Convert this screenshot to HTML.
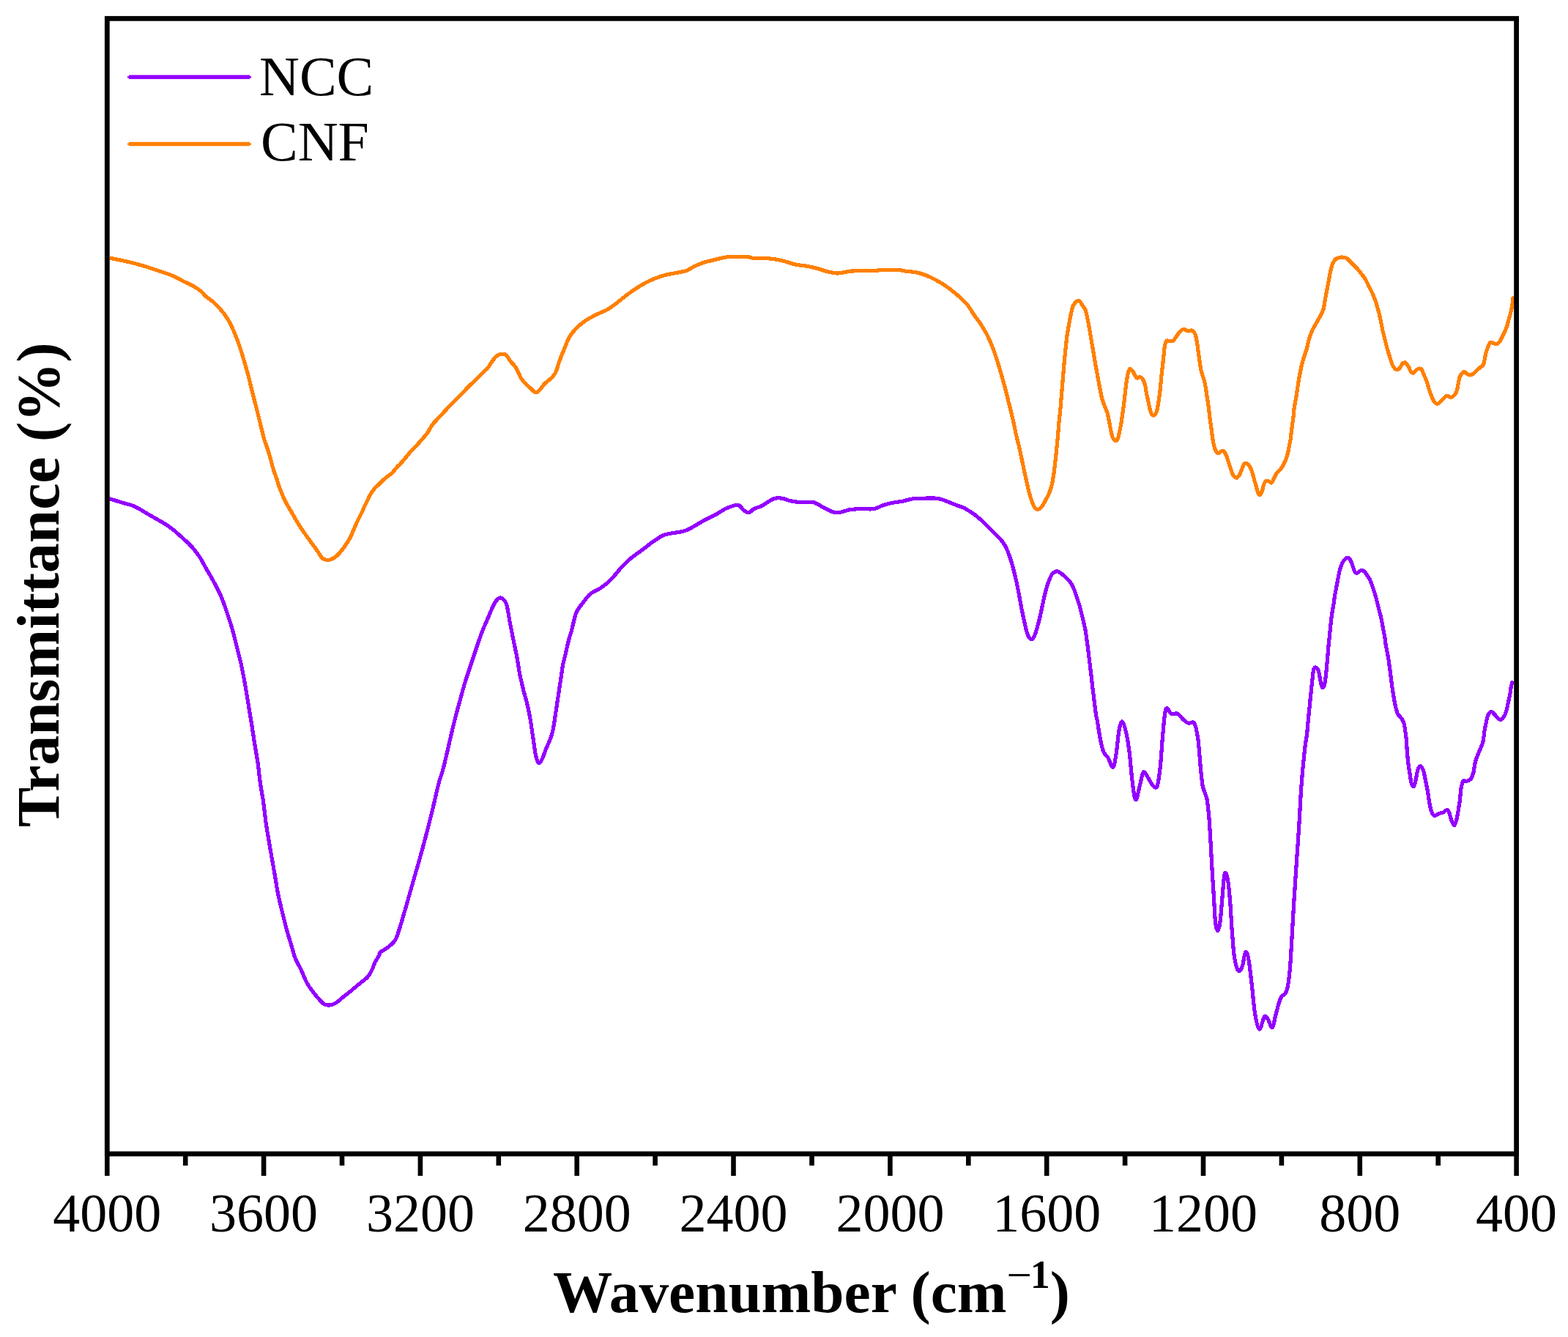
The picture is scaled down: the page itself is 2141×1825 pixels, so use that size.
<!DOCTYPE html>
<html><head><meta charset="utf-8"><style>
html,body{margin:0;padding:0;background:#fff;}
body{width:2141px;height:1825px;overflow:hidden;}
svg{display:block;}
</style></head><body>
<svg width="2141" height="1825" viewBox="0 0 2141 1825">
<rect x="0" y="0" width="2141" height="1825" fill="#fff"/>
<path d="M149.9,352.1C153.5,352.9 164.2,355.0 171.2,356.6C178.3,358.2 185.1,359.8 192.1,361.8C199.0,363.8 206.0,366.2 212.9,368.5C219.9,370.8 227.7,373.1 233.8,375.6C239.8,378.0 244.2,380.8 249.4,383.4C254.6,386.0 260.7,388.7 265.0,391.2C269.3,393.7 272.9,396.2 275.4,398.2C277.9,400.3 278.0,401.8 280.0,403.6C282.0,405.4 285.1,407.4 287.2,409.1C289.4,410.7 290.9,411.9 292.7,413.6C294.5,415.3 296.3,417.1 298.1,419.0C299.9,421.0 301.7,423.1 303.6,425.4C305.4,427.6 307.2,429.9 309.0,432.6C310.8,435.3 312.8,438.5 314.4,441.7C316.1,444.8 317.4,448.2 319.0,451.6C320.5,455.1 322.0,458.6 323.5,462.5C325.0,466.4 326.7,471.1 328.0,475.2C329.4,479.3 330.4,482.9 331.6,487.0C332.9,491.1 334.1,495.4 335.3,499.7C336.5,503.9 337.7,507.8 338.9,512.3C340.1,516.9 341.3,522.0 342.5,526.8C343.7,531.7 344.9,536.5 346.1,541.3C347.3,546.2 348.6,551.0 349.8,555.8C351.0,560.7 352.2,565.5 353.4,570.3C354.6,575.2 355.8,580.0 357.0,584.8C358.2,589.7 359.2,594.5 360.6,599.3C362.1,604.1 364.1,608.9 365.6,613.6C367.1,618.2 368.3,622.7 369.6,627.2C370.9,631.7 371.9,636.2 373.3,640.8C374.7,645.3 376.8,650.6 378.1,654.4C379.3,658.1 379.7,660.4 380.8,663.4C381.8,666.5 383.2,669.5 384.4,672.5C385.6,675.5 386.8,678.5 388.2,681.6C389.6,684.6 391.3,687.6 393.0,690.6C394.7,693.6 396.7,696.7 398.4,699.7C400.2,702.7 401.8,705.7 403.6,708.7C405.4,711.8 407.1,714.8 409.0,717.8C411.0,720.8 413.1,723.8 415.2,726.9C417.3,729.9 419.4,732.9 421.6,735.9C423.7,738.9 426.2,742.0 428.3,745.0C430.5,748.0 432.7,751.2 434.7,754.0C436.7,756.9 438.1,760.3 440.2,762.0C442.4,763.8 445.3,764.5 447.8,764.5C450.3,764.5 453.0,763.3 455.3,762.0C457.6,760.8 459.5,759.1 461.6,757.0C463.7,754.9 465.7,752.2 467.8,749.5C469.9,746.8 472.2,743.6 474.1,740.7C476.0,737.8 477.7,734.8 479.1,731.9C480.6,729.0 481.6,726.1 482.9,723.1C484.2,720.2 485.4,717.1 486.7,714.3C487.9,711.6 489.2,709.3 490.4,706.8C491.7,704.3 492.9,702.0 494.2,699.3C495.4,696.6 496.7,693.2 498.0,690.5C499.2,687.8 500.5,685.5 501.7,683.0C503.0,680.5 504.0,678.0 505.5,675.4C506.9,672.9 508.6,670.2 510.5,667.9C512.4,665.6 514.7,663.7 516.8,661.6C518.9,659.5 521.0,657.2 523.1,655.4C525.1,653.5 527.2,652.0 529.3,650.3C531.4,648.7 533.5,647.4 535.6,645.3C537.7,643.2 539.8,640.1 541.9,637.8C544.0,635.5 546.1,633.8 548.1,631.5C550.2,629.2 552.3,626.5 554.4,624.0C556.5,621.5 558.4,619.0 560.7,616.5C563.0,614.0 565.7,611.7 568.2,608.9C570.7,606.2 573.2,603.1 575.8,600.2C578.3,597.2 580.9,594.7 583.3,591.4C585.7,588.0 587.8,583.4 590.2,580.0C592.6,576.7 595.3,574.2 597.8,571.4C600.4,568.6 602.9,565.9 605.5,563.2C608.0,560.5 610.6,557.7 613.1,555.0C615.7,552.4 618.2,549.9 620.8,547.4C623.3,544.9 625.9,542.4 628.4,539.8C631.0,537.1 633.5,534.2 636.1,531.6C638.6,529.0 641.2,526.4 643.7,524.0C646.3,521.5 648.8,519.3 651.4,516.8C653.9,514.4 656.5,511.7 659.0,509.2C661.5,506.6 664.3,504.5 666.6,501.5C669.0,498.6 671.0,494.2 673.2,491.5C675.4,488.7 677.6,486.3 679.7,484.9C681.9,483.6 684.3,483.1 686.2,483.1C688.2,483.1 689.7,483.3 691.5,484.9C693.2,486.6 694.5,489.9 696.7,492.8C698.8,495.6 701.9,497.8 704.5,501.9C707.1,506.0 709.3,513.1 712.3,517.5C715.3,521.9 719.5,525.4 722.7,528.4C726.0,531.5 729.2,535.4 731.8,535.7C734.4,536.1 736.4,532.5 738.3,530.5C740.3,528.6 740.9,526.6 743.5,524.0C746.1,521.4 751.4,517.7 754.0,514.9C756.6,512.1 757.4,511.0 759.2,507.1C760.9,503.2 762.6,496.2 764.4,491.5C766.1,486.7 767.4,483.6 769.6,478.4C771.8,473.2 774.4,465.4 777.4,460.2C780.4,455.0 783.9,451.1 787.8,447.2C791.7,443.3 796.1,439.9 800.8,436.8C805.6,433.6 811.7,430.8 816.5,428.4C821.2,426.1 825.1,425.0 829.5,422.4C833.8,419.9 838.2,416.6 842.5,413.3C846.8,410.1 851.2,406.2 855.5,402.9C859.9,399.7 864.2,396.6 868.5,393.8C872.9,391.0 877.2,388.3 881.6,386.0C885.9,383.7 890.2,381.7 894.6,380.0C898.9,378.3 903.3,376.7 907.6,375.6C911.9,374.4 916.8,373.7 920.6,373.0C924.4,372.2 927.5,371.8 930.4,371.1C933.4,370.5 935.2,370.4 938.2,369.1C941.3,367.8 944.7,365.2 948.6,363.3C952.6,361.5 957.8,359.4 961.7,358.1C965.6,356.8 968.6,356.4 972.1,355.5C975.6,354.7 979.0,353.7 982.5,352.9C986.0,352.1 988.6,351.3 992.9,350.8C997.3,350.4 1003.8,350.3 1008.5,350.3C1013.3,350.3 1018.1,350.5 1021.6,350.8C1025.0,351.2 1024.6,352.0 1029.4,352.4C1034.1,352.7 1044.6,352.5 1050.2,352.9C1055.9,353.3 1058.9,353.9 1063.2,354.7C1067.6,355.6 1072.3,357.0 1076.2,358.1C1080.2,359.2 1082.3,360.4 1086.7,361.2C1091.0,362.1 1097.1,362.4 1102.3,363.3C1107.5,364.3 1113.6,365.8 1117.9,367.0C1122.3,368.2 1124.0,369.4 1128.3,370.4C1132.7,371.4 1138.8,373.0 1144.0,373.0C1149.2,373.0 1154.4,370.9 1159.6,370.4C1164.8,369.8 1169.6,369.7 1175.2,369.6C1180.9,369.5 1188.2,369.8 1193.4,369.6C1198.6,369.4 1200.8,368.5 1206.5,368.3C1212.1,368.1 1222.1,368.2 1227.3,368.5C1232.5,368.9 1233.8,369.8 1237.7,370.4C1241.6,370.9 1246.4,370.8 1250.7,371.7C1255.1,372.5 1259.4,373.9 1263.8,375.6C1268.1,377.2 1272.4,379.3 1276.8,381.6C1281.1,383.9 1285.5,386.5 1289.8,389.4C1294.1,392.3 1299.4,396.3 1302.8,399.0C1306.2,401.7 1307.4,402.7 1310.4,405.5C1313.4,408.3 1317.6,411.9 1320.8,415.9C1324.1,420.0 1327.6,426.4 1330.0,429.9C1332.4,433.4 1333.6,434.6 1335.4,437.1C1337.2,439.7 1339.1,442.4 1340.9,445.3C1342.7,448.2 1344.6,451.3 1346.3,454.3C1348.0,457.4 1349.3,460.1 1350.8,463.4C1352.3,466.7 1353.9,470.4 1355.4,474.3C1356.9,478.2 1358.4,482.4 1359.9,487.0C1361.4,491.5 1363.1,496.9 1364.4,501.4C1365.8,506.0 1366.8,509.9 1368.0,514.1C1369.3,518.4 1370.5,522.3 1371.7,526.8C1372.9,531.3 1374.1,536.5 1375.3,541.3C1376.5,546.1 1377.7,551.0 1378.9,555.8C1380.1,560.6 1381.5,565.8 1382.5,570.3C1383.6,574.8 1384.3,578.7 1385.3,583.0C1386.2,587.2 1386.9,591.1 1388.0,595.7C1389.0,600.2 1390.5,605.6 1391.6,610.1C1392.7,614.7 1393.4,618.6 1394.3,622.8C1395.2,627.1 1396.1,631.3 1397.0,635.5C1397.9,639.7 1398.8,644.0 1399.7,648.2C1400.7,652.4 1401.4,656.3 1402.5,660.9C1403.5,665.4 1404.9,671.1 1406.1,675.4C1407.3,679.6 1408.5,683.2 1409.7,686.2C1410.9,689.3 1412.0,692.0 1413.3,693.5C1414.7,695.0 1416.4,695.6 1417.9,695.3C1419.4,695.0 1420.7,693.8 1422.4,691.7C1424.1,689.6 1426.2,685.6 1427.8,682.6C1429.5,679.6 1431.0,676.9 1432.4,673.6C1433.7,670.2 1434.9,666.9 1436.0,662.7C1437.0,658.5 1437.9,653.0 1438.7,648.2C1439.5,643.4 1439.9,638.8 1440.5,633.7C1441.1,628.6 1441.7,623.1 1442.3,617.4C1442.9,611.7 1443.5,605.9 1444.1,599.3C1444.7,592.6 1445.3,584.2 1445.9,577.5C1446.5,570.9 1447.1,566.1 1447.8,559.4C1448.4,552.8 1449.0,544.9 1449.6,537.7C1450.2,530.4 1450.8,523.2 1451.4,515.9C1452.0,508.7 1452.6,500.8 1453.2,494.2C1453.8,487.6 1454.4,481.8 1455.0,476.1C1455.6,470.4 1456.1,465.2 1456.8,459.8C1457.6,454.3 1458.6,448.6 1459.5,443.5C1460.4,438.3 1461.3,433.2 1462.2,429.0C1463.2,424.8 1463.8,421.0 1465.0,418.1C1466.2,415.2 1468.0,413.0 1469.5,411.8C1471.0,410.6 1472.7,410.1 1474.0,410.9C1475.4,411.6 1476.3,414.2 1477.6,416.3C1479.0,418.5 1480.9,419.8 1482.3,423.8C1483.7,427.7 1484.9,435.2 1485.9,440.0C1486.8,444.8 1487.4,448.2 1488.2,452.7C1489.0,457.2 1489.8,462.2 1490.6,467.0C1491.4,471.7 1492.2,476.5 1493.0,481.2C1493.8,486.0 1494.6,491.0 1495.4,495.5C1496.2,500.0 1497.0,504.0 1497.8,508.2C1498.5,512.4 1499.3,516.6 1500.1,520.9C1500.9,525.1 1501.7,529.6 1502.5,533.6C1503.3,537.5 1503.8,541.0 1504.9,544.7C1505.9,548.4 1507.7,552.6 1508.9,555.8C1510.0,558.9 1511.1,560.5 1512.0,563.7C1512.9,566.9 1513.6,570.8 1514.4,574.8C1515.2,578.8 1516.0,583.8 1516.8,587.5C1517.6,591.2 1518.1,594.6 1519.2,597.0C1520.2,599.4 1521.9,601.5 1523.1,601.8C1524.3,602.0 1525.4,600.7 1526.3,598.6C1527.2,596.5 1527.9,592.8 1528.7,589.1C1529.5,585.4 1530.3,581.1 1531.1,576.4C1531.8,571.6 1532.8,565.3 1533.4,560.5C1534.1,555.8 1534.5,552.3 1535.0,547.8C1535.5,543.3 1536.1,538.1 1536.6,533.6C1537.1,529.1 1537.5,525.1 1538.2,520.9C1538.9,516.6 1539.8,511.1 1540.6,508.2C1541.4,505.3 1542.0,503.8 1542.9,503.4C1543.9,503.0 1545.1,504.5 1546.1,505.8C1547.2,507.1 1548.2,509.6 1549.3,511.4C1550.3,513.1 1551.3,515.6 1552.5,516.1C1553.7,516.6 1555.1,514.3 1556.4,514.5C1557.7,514.8 1559.2,515.9 1560.4,517.7C1561.6,519.6 1562.8,522.7 1563.6,525.6C1564.4,528.5 1564.5,531.7 1565.1,535.1C1565.8,538.6 1566.7,542.5 1567.5,546.2C1568.3,550.0 1569.1,554.2 1569.9,557.4C1570.7,560.5 1571.4,563.7 1572.3,565.3C1573.2,566.9 1574.4,567.1 1575.5,566.9C1576.5,566.6 1577.7,565.8 1578.6,563.7C1579.6,561.6 1580.3,557.9 1581.0,554.2C1581.7,550.5 1582.3,545.7 1582.9,541.5C1583.5,537.3 1584.0,533.3 1584.5,528.8C1585.0,524.3 1585.3,519.3 1585.8,514.5C1586.2,509.8 1586.8,505.0 1587.4,500.3C1587.9,495.5 1588.4,490.7 1588.9,486.0C1589.5,481.2 1589.9,475.2 1590.5,471.7C1591.2,468.3 1591.8,466.4 1592.9,465.4C1594.0,464.3 1595.4,465.4 1596.9,465.4C1598.3,465.4 1600.0,466.4 1601.6,465.4C1603.2,464.3 1604.9,461.0 1606.4,459.0C1607.8,457.0 1608.8,455.1 1610.3,453.5C1611.9,451.9 1613.9,449.8 1615.9,449.5C1617.9,449.3 1620.3,451.6 1622.2,451.9C1624.2,452.2 1626.2,450.4 1627.8,451.1C1629.4,451.8 1630.7,453.5 1631.8,455.9C1632.8,458.2 1633.5,461.9 1634.1,465.4C1634.8,468.8 1635.2,472.8 1635.7,476.5C1636.2,480.2 1636.6,482.9 1637.3,487.6C1638.0,492.2 1638.6,498.6 1639.8,504.5C1641.1,510.3 1643.7,516.8 1645.1,522.7C1646.4,528.6 1647.1,534.9 1647.9,540.0C1648.7,545.1 1649.2,548.6 1649.9,553.6C1650.6,558.6 1651.3,564.7 1651.9,569.9C1652.6,575.1 1653.3,579.9 1654.0,584.9C1654.7,589.8 1655.2,595.3 1656.0,599.8C1656.8,604.4 1657.6,608.9 1658.7,612.1C1659.9,615.2 1661.5,618.2 1662.8,618.9C1664.2,619.5 1665.5,616.6 1666.9,616.1C1668.3,615.7 1669.7,615.2 1671.0,616.1C1672.2,617.0 1673.4,619.3 1674.4,621.6C1675.4,623.8 1676.2,627.0 1677.1,629.7C1678.0,632.4 1678.8,634.9 1679.8,637.9C1680.8,640.8 1681.9,645.0 1683.2,647.4C1684.6,649.8 1686.5,651.9 1688.0,652.2C1689.4,652.4 1690.8,650.7 1692.1,648.8C1693.3,646.8 1694.3,643.2 1695.5,640.6C1696.6,638.0 1697.7,634.5 1698.9,633.1C1700.0,631.8 1701.0,631.9 1702.3,632.4C1703.5,633.0 1705.1,634.5 1706.3,636.5C1707.6,638.6 1708.7,641.7 1709.7,644.7C1710.7,647.6 1711.5,651.0 1712.4,654.2C1713.4,657.4 1714.3,660.5 1715.2,663.7C1716.1,666.9 1717.0,671.3 1717.9,673.2C1718.8,675.2 1719.7,675.7 1720.6,675.3C1721.5,674.8 1722.5,672.7 1723.3,670.5C1724.1,668.4 1724.6,664.6 1725.4,662.4C1726.2,660.1 1726.9,657.8 1728.1,656.9C1729.2,656.0 1730.8,656.6 1732.2,656.9C1733.5,657.3 1735.0,659.6 1736.2,659.0C1737.5,658.3 1738.5,655.0 1739.6,652.8C1740.8,650.7 1741.8,647.9 1743.0,646.0C1744.3,644.2 1745.8,643.5 1747.1,642.0C1748.5,640.4 1749.8,638.8 1751.2,636.5C1752.6,634.3 1754.1,631.1 1755.3,628.4C1756.4,625.6 1757.2,623.2 1758.0,620.2C1758.8,617.3 1759.4,614.1 1760.0,610.7C1760.7,607.3 1761.5,603.4 1762.1,599.8C1762.6,596.2 1763.0,592.6 1763.4,588.9C1763.9,585.3 1764.4,581.2 1764.8,578.1C1765.2,574.9 1765.5,573.5 1765.9,570.0C1766.3,566.4 1766.5,561.7 1767.2,556.8C1767.9,552.0 1769.1,546.2 1770.0,541.0C1770.8,535.7 1771.5,530.4 1772.4,525.1C1773.2,519.8 1774.1,514.5 1775.1,509.3C1776.2,504.0 1777.2,498.7 1778.7,493.4C1780.1,488.1 1782.3,482.8 1783.8,477.6C1785.4,472.3 1786.4,466.3 1787.8,461.7C1789.2,457.1 1790.5,453.8 1792.4,449.8C1794.3,445.9 1797.3,441.2 1799.1,437.9C1801.0,434.6 1802.2,432.7 1803.5,430.0C1804.8,427.3 1806.0,425.4 1807.0,422.0C1807.9,418.5 1808.5,413.5 1809.3,409.3C1810.1,405.1 1810.9,400.8 1811.7,396.6C1812.5,392.4 1813.3,388.1 1814.1,383.9C1814.9,379.7 1815.6,375.2 1816.5,371.2C1817.4,367.3 1818.5,363.0 1819.6,360.1C1820.8,357.2 1822.0,355.2 1823.6,353.8C1825.2,352.3 1827.2,351.8 1829.2,351.4C1831.1,351.0 1833.7,351.0 1835.5,351.4C1837.4,351.8 1838.4,352.3 1840.3,353.8C1842.1,355.2 1844.5,358.0 1846.6,360.1C1848.7,362.2 1850.8,364.1 1853.0,366.5C1855.1,368.9 1857.4,372.0 1859.3,374.4C1861.1,376.8 1862.5,378.1 1864.1,380.7C1865.6,383.4 1867.2,387.1 1868.8,390.3C1870.4,393.4 1872.1,396.6 1873.6,399.8C1875.0,403.0 1876.2,405.6 1877.5,409.3C1878.9,413.0 1880.3,417.8 1881.5,422.0C1882.7,426.2 1883.6,429.9 1884.7,434.7C1885.7,439.4 1886.8,445.8 1887.8,450.5C1888.9,455.3 1890.0,459.0 1891.0,463.2C1892.1,467.4 1893.0,471.7 1894.2,475.9C1895.4,480.1 1897.0,484.9 1898.1,488.6C1899.3,492.3 1900.0,495.5 1901.3,498.1C1902.6,500.7 1904.5,503.7 1906.1,504.4C1907.7,505.2 1909.4,504.2 1910.8,502.9C1912.3,501.5 1913.5,497.8 1914.8,496.5C1916.1,495.2 1917.4,494.4 1918.8,494.9C1920.1,495.5 1921.4,497.6 1922.7,499.7C1924.1,501.8 1925.5,506.1 1926.7,507.6C1927.9,509.2 1928.8,509.5 1930.0,509.1C1931.2,508.6 1932.7,506.0 1934.1,505.0C1935.4,504.0 1936.9,503.0 1938.2,503.0C1939.4,503.0 1940.4,503.3 1941.5,505.0C1942.7,506.7 1943.8,510.4 1944.9,513.2C1946.1,515.9 1947.3,518.4 1948.3,521.3C1949.4,524.2 1950.0,527.6 1951.1,530.8C1952.1,534.0 1953.2,537.4 1954.5,540.3C1955.7,543.3 1957.2,546.7 1958.5,548.5C1959.9,550.3 1961.2,551.2 1962.6,551.2C1964.0,551.2 1965.3,549.6 1966.7,548.5C1968.0,547.3 1969.3,545.8 1970.8,544.4C1972.2,543.0 1973.7,540.7 1975.5,540.3C1977.3,540.0 1979.9,542.5 1981.6,542.4C1983.3,542.3 1984.5,541.1 1985.7,539.6C1987.0,538.2 1988.2,536.1 1989.1,533.5C1990.0,530.9 1990.5,527.2 1991.1,524.0C1991.8,520.9 1992.3,517.0 1993.2,514.5C1994.1,512.0 1995.4,510.2 1996.6,509.1C1997.7,507.9 1998.7,507.4 2000.0,507.7C2001.2,508.1 2002.6,510.4 2004.0,511.1C2005.5,511.8 2007.3,512.1 2008.8,511.8C2010.3,511.5 2011.5,510.2 2012.9,509.1C2014.2,507.9 2015.6,506.2 2017.0,505.0C2018.3,503.8 2019.7,502.7 2021.0,501.6C2022.4,500.5 2024.1,499.9 2025.1,498.2C2026.1,496.5 2026.6,493.9 2027.1,491.4C2027.7,488.9 2027.8,486.0 2028.5,483.3C2029.2,480.5 2030.2,477.7 2031.2,475.1C2032.2,472.5 2033.4,468.8 2034.6,467.6C2035.9,466.5 2037.1,468.0 2038.7,468.3C2040.3,468.7 2042.5,470.1 2044.1,469.7C2045.7,469.2 2047.0,467.4 2048.2,465.6C2049.5,463.8 2050.5,461.1 2051.6,458.8C2052.7,456.5 2054.0,454.3 2055.0,452.0C2056.0,449.7 2056.9,447.7 2057.7,445.2C2058.5,442.7 2059.1,439.6 2059.8,437.1C2060.4,434.6 2061.1,432.8 2061.8,430.3C2062.5,427.8 2063.3,424.8 2063.8,422.1C2064.4,419.4 2064.9,416.5 2065.2,414.0C2065.5,411.5 2065.4,408.4 2065.9,407.2C2066.3,406.0 2067.7,406.9 2068.0,406.8" fill="none" stroke="#ff8000" stroke-width="5.2" stroke-linejoin="round" stroke-linecap="butt" shape-rendering="crispEdges"/>
<path d="M149.5,680.7C152.2,681.5 160.2,684.1 165.8,685.8C171.4,687.6 177.4,688.6 183.1,691.0C188.8,693.4 195.0,697.6 200.0,700.5C205.0,703.3 208.6,705.5 212.9,708.0C217.2,710.5 221.9,713.0 225.8,715.5C229.8,718.0 233.0,720.2 236.6,723.1C240.2,725.9 243.8,729.5 247.4,732.7C251.0,736.0 254.9,739.2 258.1,742.4C261.4,745.7 264.0,748.7 266.7,752.1C269.4,755.5 271.9,759.1 274.3,762.9C276.6,766.7 278.4,770.6 280.7,774.7C283.1,778.9 285.9,783.5 288.3,787.6C290.6,791.8 292.6,795.4 294.7,799.5C296.9,803.6 299.2,807.9 301.2,812.4C303.2,816.9 305.0,821.9 306.6,826.4C308.2,830.9 309.4,835.0 310.9,839.3C312.3,843.6 313.7,847.6 315.2,852.2C316.6,856.9 318.0,861.9 319.5,867.3C320.9,872.7 322.4,878.8 323.8,884.5C325.2,890.3 326.8,896.4 328.1,901.7C329.4,907.1 330.2,911.4 331.3,916.8C332.4,922.2 333.5,927.9 334.6,934.0C335.6,940.1 336.7,947.0 337.8,953.4C338.9,959.9 340.0,966.7 341.0,972.8C342.0,978.9 342.8,983.9 343.8,990.0C344.8,996.1 345.9,1003.3 346.8,1009.4C347.8,1015.5 348.7,1020.9 349.6,1026.6C350.6,1032.4 351.4,1036.6 352.4,1043.8C353.4,1051.0 354.3,1061.5 355.5,1069.8C356.7,1078.1 358.1,1084.3 359.5,1093.6C360.8,1102.8 361.8,1114.1 363.4,1125.3C365.1,1136.5 367.4,1149.4 369.4,1161.0C371.3,1172.5 373.7,1185.1 375.3,1194.7C377.0,1204.2 377.6,1210.2 379.3,1218.4C380.9,1226.7 383.2,1236.0 385.2,1244.2C387.2,1252.5 389.2,1260.7 391.2,1268.0C393.1,1275.3 395.1,1281.2 397.1,1287.8C399.1,1294.4 400.7,1301.7 403.0,1307.6C405.4,1313.6 408.3,1317.9 411.0,1323.5C413.6,1329.1 416.3,1336.4 418.9,1341.3C421.5,1346.3 423.9,1349.2 426.8,1353.2C429.8,1357.2 434.1,1362.2 436.7,1365.1C439.4,1368.0 440.4,1369.5 442.7,1370.6C445.0,1371.8 448.0,1372.3 450.6,1372.0C453.3,1371.8 455.6,1370.9 458.5,1369.1C461.5,1367.2 465.1,1363.8 468.4,1361.1C471.7,1358.5 474.7,1356.2 478.4,1353.2C482.0,1350.2 486.3,1346.6 490.2,1343.3C494.2,1340.0 499.2,1336.7 502.1,1333.4C505.1,1330.1 506.4,1326.8 508.1,1323.5C509.7,1320.2 510.4,1316.9 512.0,1313.6C513.7,1310.3 516.9,1305.9 518.0,1303.7C519.1,1301.4 516.9,1301.9 518.8,1300.1C520.8,1298.4 526.3,1295.8 529.7,1293.0C533.2,1290.2 537.0,1287.4 539.7,1283.1C542.3,1278.8 543.6,1273.2 545.6,1267.2C547.6,1261.3 549.2,1255.3 551.5,1247.4C553.9,1239.5 556.8,1228.9 559.5,1219.6C562.1,1210.4 564.8,1201.1 567.4,1191.9C570.1,1182.6 572.7,1173.7 575.3,1164.1C578.0,1154.5 580.6,1144.6 583.3,1134.4C585.9,1124.1 588.6,1113.6 591.2,1102.7C593.8,1091.8 596.9,1077.4 599.1,1069.0C601.3,1060.6 602.7,1058.1 604.3,1052.3C606.0,1046.4 607.4,1040.3 608.9,1033.9C610.5,1027.5 612.0,1020.7 613.5,1014.0C615.0,1007.4 616.6,1000.5 618.1,994.2C619.6,987.8 621.2,981.7 622.7,975.8C624.2,970.0 625.7,964.6 627.3,959.0C628.8,953.4 630.3,947.5 631.9,942.2C633.4,936.8 634.9,931.7 636.4,926.9C638.0,922.1 639.5,917.7 641.0,913.1C642.6,908.5 644.1,904.0 645.6,899.4C647.1,894.8 648.7,890.2 650.2,885.6C651.7,881.0 653.3,876.2 654.8,871.9C656.3,867.5 657.8,863.4 659.4,859.6C660.9,855.8 662.4,852.5 664.0,848.9C665.5,845.4 667.0,841.8 668.5,838.2C670.1,834.7 671.6,830.6 673.1,827.5C674.7,824.5 676.2,821.8 677.7,819.9C679.2,818.0 680.8,816.4 682.3,816.1C683.8,815.7 685.4,816.2 686.9,817.6C688.4,819.0 690.3,821.5 691.5,824.5C692.6,827.4 693.0,831.1 693.8,835.2C694.5,839.2 695.2,844.1 696.1,848.9C697.0,853.8 698.1,859.1 699.1,864.2C700.1,869.3 701.2,874.7 702.2,879.5C703.2,884.3 704.3,888.7 705.2,893.3C706.1,897.8 706.8,902.4 707.5,907.0C708.3,911.6 708.9,916.2 709.8,920.8C710.7,925.4 711.9,930.2 712.9,934.5C713.9,938.9 714.9,942.9 715.9,946.8C717.0,950.6 718.0,953.4 719.0,957.5C720.0,961.5 721.2,966.9 722.1,971.2C722.9,975.6 723.6,978.9 724.4,983.5C725.1,988.0 725.9,993.7 726.6,998.7C727.4,1003.8 728.2,1008.9 728.9,1014.0C729.7,1019.1 730.3,1025.0 731.2,1029.3C732.1,1033.7 733.3,1038.1 734.3,1040.0C735.3,1041.9 736.2,1041.8 737.3,1040.8C738.5,1039.8 739.8,1037.1 741.2,1033.9C742.6,1030.7 744.1,1025.8 745.8,1021.7C747.4,1017.6 749.6,1013.5 751.1,1009.5C752.6,1005.4 753.9,1001.6 754.9,997.2C755.9,992.9 756.5,988.3 757.2,983.5C758.0,978.6 758.7,973.3 759.5,968.2C760.3,963.1 761.0,958.0 761.8,952.9C762.6,947.8 763.3,942.7 764.1,937.6C764.9,932.5 765.6,927.4 766.4,922.3C767.2,917.2 767.8,911.6 768.7,907.0C769.6,902.4 770.7,899.1 771.7,894.8C772.8,890.5 773.8,885.4 774.8,881.0C775.8,876.7 777.0,871.9 777.9,868.8C778.7,865.7 778.5,868.1 780.0,862.7C781.5,857.3 784.2,843.0 786.8,836.4C789.4,829.9 792.2,827.8 795.4,823.5C798.6,819.2 801.9,814.2 806.2,810.6C810.5,807.0 816.6,805.2 821.2,802.0C825.9,798.8 829.8,795.6 834.1,791.2C838.4,786.9 842.7,780.9 847.0,776.2C851.4,771.5 854.9,767.6 860.0,763.3C865.0,759.0 871.4,754.7 877.2,750.4C882.9,746.1 889.4,740.8 894.4,737.5C899.4,734.1 902.3,731.9 907.3,730.1C912.3,728.4 919.8,727.6 924.5,726.7C929.2,725.8 932.0,725.8 935.6,724.5C939.2,723.3 941.7,721.7 946.0,719.3C950.4,716.9 956.5,713.0 961.7,710.2C966.9,707.4 972.5,705.0 977.3,702.4C982.1,699.8 986.4,696.5 990.3,694.6C994.2,692.6 997.7,691.5 1000.7,690.7C1003.8,689.8 1005.9,688.3 1008.5,689.4C1011.1,690.5 1014.0,695.5 1016.4,697.2C1018.7,698.9 1020.7,700.2 1022.9,699.8C1025.0,699.4 1026.6,696.1 1029.4,694.6C1032.2,693.1 1036.3,692.4 1039.8,690.7C1043.3,688.9 1047.2,685.9 1050.2,684.2C1053.2,682.4 1055.0,680.9 1058.0,680.3C1061.1,679.6 1065.0,679.7 1068.4,680.3C1071.9,680.8 1074.9,682.8 1078.9,683.6C1082.8,684.5 1086.7,685.2 1091.9,685.5C1097.1,685.8 1104.9,684.4 1110.1,685.5C1115.3,686.6 1118.8,689.8 1123.1,692.0C1127.5,694.1 1132.5,697.2 1136.1,698.5C1139.8,699.8 1141.4,700.2 1145.3,699.8C1149.2,699.4 1154.6,696.8 1159.6,695.9C1164.6,695.0 1169.6,694.8 1175.2,694.6C1180.9,694.4 1188.2,695.5 1193.4,694.6C1198.6,693.7 1202.1,690.8 1206.5,689.4C1210.8,688.0 1215.1,687.1 1219.5,686.2C1223.8,685.4 1228.2,685.0 1232.5,684.2C1236.8,683.3 1241.2,681.7 1245.5,681.0C1249.9,680.4 1252.9,680.4 1258.5,680.3C1264.2,680.1 1273.7,679.6 1279.4,680.3C1285.0,680.9 1288.1,682.6 1292.4,684.2C1296.7,685.7 1301.3,687.8 1305.4,689.4C1309.6,690.9 1314.8,692.6 1317.2,693.6C1319.7,694.6 1318.3,694.3 1320.0,695.4C1321.7,696.5 1324.8,698.3 1327.3,699.9C1329.7,701.6 1332.1,703.4 1334.5,705.4C1336.9,707.3 1339.3,709.5 1341.8,711.7C1344.2,714.0 1346.6,716.6 1349.0,719.0C1351.4,721.4 1353.8,723.8 1356.3,726.2C1358.7,728.6 1361.2,731.1 1363.5,733.5C1365.8,735.9 1368.0,738.2 1369.8,740.7C1371.7,743.3 1373.0,746.0 1374.4,748.9C1375.7,751.8 1376.8,754.6 1378.0,757.9C1379.2,761.3 1380.6,765.2 1381.6,768.8C1382.7,772.4 1383.4,776.1 1384.4,779.7C1385.3,783.3 1386.2,786.6 1387.1,790.6C1388.0,794.5 1388.9,798.7 1389.8,803.3C1390.7,807.8 1391.6,812.9 1392.5,817.8C1393.4,822.6 1394.3,827.7 1395.2,832.3C1396.1,836.8 1397.0,840.7 1397.9,845.0C1398.9,849.2 1399.8,854.0 1400.7,857.6C1401.6,861.3 1402.3,864.3 1403.4,866.7C1404.4,869.1 1405.8,871.4 1407.0,872.1C1408.2,872.9 1409.4,872.7 1410.6,871.2C1411.8,869.7 1413.1,866.6 1414.3,863.1C1415.5,859.6 1416.8,854.3 1417.9,850.4C1418.9,846.5 1419.7,843.4 1420.6,839.5C1421.5,835.6 1422.4,831.1 1423.3,826.8C1424.2,822.6 1425.1,818.1 1426.0,814.1C1426.9,810.2 1427.7,806.9 1428.8,803.3C1429.8,799.6 1431.0,795.7 1432.4,792.4C1433.7,789.1 1435.1,785.4 1436.9,783.3C1438.7,781.2 1441.1,779.7 1443.3,779.7C1445.4,779.7 1447.5,781.8 1449.6,783.3C1451.7,784.8 1453.8,786.6 1456.0,788.8C1458.1,790.9 1460.5,793.3 1462.3,796.0C1464.1,798.7 1465.5,801.8 1466.8,805.1C1468.2,808.4 1469.2,812.3 1470.5,816.0C1471.7,819.6 1473.0,823.2 1474.1,826.8C1475.1,830.5 1475.9,834.1 1476.8,837.7C1477.7,841.3 1478.6,844.7 1479.5,848.6C1480.4,852.5 1481.5,857.0 1482.2,861.3C1483.0,865.5 1483.4,869.4 1484.0,874.0C1484.7,878.5 1485.3,883.6 1485.9,888.5C1486.5,893.3 1487.1,898.1 1487.7,903.0C1488.3,907.8 1488.9,912.3 1489.5,917.5C1490.1,922.6 1490.7,928.6 1491.3,933.8C1491.9,938.9 1492.5,943.4 1493.1,948.3C1493.7,953.1 1494.3,957.9 1494.9,962.8C1495.5,967.6 1496.2,973.9 1496.7,977.3C1497.3,980.6 1497.1,977.7 1498.1,982.9C1499.0,988.2 1500.9,1001.6 1502.4,1008.8C1503.8,1015.9 1504.9,1021.7 1506.7,1026.0C1508.5,1030.3 1511.0,1031.0 1513.1,1034.6C1515.3,1038.2 1517.8,1048.2 1519.6,1047.5C1521.4,1046.8 1522.5,1038.9 1523.9,1030.3C1525.3,1021.7 1526.8,1003.4 1528.2,995.8C1529.6,988.3 1530.9,984.4 1532.5,985.1C1534.1,985.8 1536.1,993.3 1537.7,1000.2C1539.3,1007.0 1540.7,1015.9 1542.0,1026.0C1543.3,1036.0 1544.3,1050.4 1545.4,1060.4C1546.6,1070.5 1547.8,1081.2 1548.9,1086.3C1549.9,1091.3 1550.5,1093.4 1551.9,1090.6C1553.2,1087.7 1555.5,1075.1 1557.1,1069.0C1558.6,1062.9 1559.7,1055.4 1561.4,1054.0C1563.0,1052.5 1564.9,1057.6 1567.0,1060.4C1569.0,1063.3 1571.3,1069.0 1573.4,1071.2C1575.6,1073.3 1578.1,1077.3 1579.9,1073.3C1581.7,1069.4 1582.9,1059.0 1584.2,1047.5C1585.5,1036.0 1586.5,1016.7 1587.6,1004.5C1588.7,992.3 1589.6,980.6 1590.6,974.3C1591.6,968.0 1592.2,966.6 1593.6,966.6C1595.1,966.6 1596.9,973.0 1599.2,974.3C1601.6,975.6 1605.0,972.9 1607.9,974.3C1610.7,975.8 1614.0,980.8 1616.5,982.9C1619.0,985.1 1620.6,986.5 1622.9,987.2C1625.3,988.0 1628.5,983.6 1630.7,987.2C1632.8,990.8 1634.4,998.7 1635.8,1008.8C1637.3,1018.8 1638.2,1036.7 1639.3,1047.5C1640.4,1058.3 1640.9,1066.2 1642.3,1073.3C1643.7,1080.5 1646.5,1083.4 1647.9,1090.6C1649.3,1097.7 1650.1,1106.4 1650.9,1116.4C1651.8,1126.5 1652.4,1138.7 1653.1,1150.9C1653.8,1163.0 1654.5,1177.4 1655.2,1189.6C1655.9,1201.8 1656.7,1212.6 1657.4,1224.0C1658.1,1235.5 1658.7,1250.7 1659.5,1258.5C1660.4,1266.2 1661.5,1270.5 1662.5,1270.5C1663.6,1270.5 1664.8,1267.0 1666.0,1258.5C1667.1,1250.0 1668.4,1230.9 1669.4,1219.7C1670.5,1208.6 1671.2,1194.6 1672.4,1191.8C1673.7,1188.9 1675.5,1195.7 1676.7,1202.5C1678.0,1209.3 1678.8,1221.2 1679.8,1232.7C1680.7,1244.1 1681.4,1259.2 1682.3,1271.4C1683.3,1283.6 1684.0,1296.9 1685.4,1305.9C1686.8,1314.8 1688.9,1323.1 1690.8,1325.2C1692.6,1327.4 1694.7,1323.1 1696.4,1318.8C1698.0,1314.5 1699.2,1300.8 1700.7,1299.4C1702.1,1298.0 1703.5,1302.6 1705.0,1310.2C1706.4,1317.7 1707.8,1332.4 1709.3,1344.6C1710.7,1356.8 1711.9,1373.3 1713.6,1383.4C1715.3,1393.4 1717.5,1404.2 1719.6,1404.9C1721.8,1405.6 1724.5,1389.8 1726.5,1387.7C1728.5,1385.5 1729.9,1389.5 1731.7,1392.0C1733.5,1394.5 1735.5,1404.2 1737.3,1402.7C1739.1,1401.3 1740.5,1390.2 1742.4,1383.4C1744.4,1376.5 1746.5,1366.9 1748.9,1361.8C1751.3,1356.8 1754.6,1359.0 1756.6,1353.2C1758.7,1347.5 1759.7,1339.6 1760.9,1327.4C1762.2,1315.2 1763.0,1296.5 1764.0,1280.0C1765.0,1263.5 1765.9,1245.6 1767.0,1228.4C1768.1,1211.1 1769.3,1193.9 1770.4,1176.7C1771.6,1159.5 1772.8,1142.2 1773.9,1125.0C1774.9,1107.8 1775.7,1089.9 1776.9,1073.3C1778.1,1056.8 1779.9,1037.9 1781.2,1026.0C1782.5,1014.0 1783.7,1008.6 1784.6,1001.6C1785.4,994.7 1785.6,989.8 1786.2,984.2C1786.7,978.7 1787.2,973.6 1787.8,968.3C1788.3,963.1 1788.8,957.8 1789.3,952.5C1789.9,947.2 1790.4,941.7 1790.9,936.6C1791.5,931.6 1792.0,926.3 1792.5,922.4C1793.0,918.4 1793.3,914.7 1794.1,912.8C1794.9,911.0 1796.2,910.7 1797.3,911.3C1798.3,911.8 1799.5,913.1 1800.4,916.0C1801.4,918.9 1802.0,925.0 1802.8,928.7C1803.6,932.4 1804.3,937.2 1805.2,938.2C1806.1,939.3 1807.4,938.2 1808.4,935.0C1809.3,931.9 1810.1,924.7 1810.7,919.2C1811.4,913.6 1811.8,907.8 1812.3,901.7C1812.9,895.7 1813.4,888.5 1813.9,882.7C1814.4,876.9 1815.0,872.1 1815.5,866.9C1816.0,861.6 1816.6,855.8 1817.1,851.0C1817.6,846.2 1818.0,842.8 1818.7,838.3C1819.3,833.8 1820.4,828.3 1821.1,824.0C1821.7,819.8 1822.0,816.9 1822.6,812.9C1823.3,809.0 1824.2,804.5 1825.0,800.3C1825.8,796.0 1826.6,791.5 1827.4,787.6C1828.2,783.6 1828.8,779.6 1829.8,776.5C1830.7,773.3 1831.9,770.7 1832.9,768.5C1834.0,766.4 1834.9,765.0 1836.1,763.8C1837.3,762.6 1838.8,761.3 1840.1,761.4C1841.4,761.5 1842.9,762.6 1844.0,764.6C1845.2,766.6 1846.2,770.5 1847.2,773.3C1848.3,776.1 1849.3,779.8 1850.4,781.2C1851.4,782.7 1852.4,782.4 1853.6,782.0C1854.7,781.6 1856.1,779.2 1857.5,778.9C1859.0,778.5 1860.8,778.7 1862.3,779.6C1863.7,780.6 1864.9,782.6 1866.2,784.4C1867.6,786.3 1869.0,788.4 1870.2,790.7C1871.4,793.1 1872.3,795.8 1873.4,798.7C1874.4,801.6 1875.5,804.8 1876.6,808.2C1877.6,811.6 1878.7,815.3 1879.7,819.3C1880.8,823.3 1881.8,827.7 1882.9,832.0C1884.0,836.2 1885.1,840.4 1886.1,844.7C1887.0,848.9 1887.7,853.1 1888.4,857.3C1889.2,861.6 1890.2,866.3 1890.8,870.0C1891.5,873.8 1891.7,876.9 1892.2,880.0C1892.7,883.1 1893.3,885.4 1893.9,888.8C1894.6,892.2 1895.3,896.4 1896.0,900.4C1896.6,904.3 1897.1,908.3 1897.7,912.6C1898.2,916.9 1898.8,921.8 1899.4,926.2C1899.9,930.6 1900.5,935.2 1901.1,939.1C1901.6,943.1 1902.2,946.6 1902.8,950.0C1903.3,953.4 1903.8,956.4 1904.5,959.5C1905.1,962.6 1905.8,965.8 1906.5,968.3C1907.2,970.8 1907.6,972.8 1908.5,974.5C1909.4,976.1 1910.8,977.1 1911.9,978.5C1913.1,980.0 1914.4,981.6 1915.3,983.3C1916.2,985.0 1916.9,986.7 1917.4,988.7C1917.9,990.8 1918.0,992.6 1918.4,995.5C1918.8,998.4 1919.4,1001.0 1919.9,1006.0C1920.4,1010.9 1920.9,1019.2 1921.3,1025.1C1921.8,1031.0 1922.2,1036.1 1922.8,1041.3C1923.4,1046.4 1924.3,1051.3 1925.0,1056.0C1925.8,1060.7 1926.4,1066.3 1927.2,1069.3C1928.1,1072.2 1929.2,1074.4 1930.2,1073.7C1931.2,1072.9 1932.1,1068.8 1933.1,1064.8C1934.1,1060.9 1935.0,1053.3 1936.1,1050.1C1937.2,1046.9 1938.5,1045.5 1939.7,1045.7C1941.0,1046.0 1942.3,1048.4 1943.4,1051.6C1944.5,1054.8 1945.4,1060.2 1946.4,1064.8C1947.3,1069.5 1948.4,1074.7 1949.3,1079.6C1950.2,1084.5 1950.7,1089.6 1951.5,1094.3C1952.4,1098.9 1953.2,1104.3 1954.5,1107.5C1955.7,1110.7 1957.2,1112.9 1958.9,1113.4C1960.6,1113.9 1962.8,1111.2 1964.8,1110.5C1966.7,1109.7 1968.8,1109.9 1970.6,1109.0C1972.5,1108.1 1974.4,1105.3 1975.8,1105.3C1977.1,1105.3 1977.8,1106.7 1978.7,1109.0C1979.7,1111.3 1980.6,1116.4 1981.7,1119.3C1982.8,1122.2 1984.3,1126.4 1985.4,1126.7C1986.5,1126.9 1987.3,1124.2 1988.3,1120.8C1989.3,1117.3 1990.4,1111.0 1991.3,1106.1C1992.1,1101.1 1992.8,1096.2 1993.5,1091.3C1994.1,1086.4 1994.2,1080.8 1994.9,1076.6C1995.7,1072.4 1996.5,1068.0 1997.9,1066.3C1999.2,1064.6 2001.3,1066.8 2003.0,1066.3C2004.7,1065.8 2006.7,1065.3 2008.2,1063.4C2009.6,1061.4 2010.9,1058.2 2011.9,1054.5C2012.8,1050.9 2013.2,1045.0 2014.1,1041.3C2014.9,1037.6 2015.9,1035.4 2017.0,1032.5C2018.1,1029.5 2019.3,1027.1 2020.7,1023.6C2022.0,1020.2 2024.1,1015.8 2025.1,1011.9C2026.1,1007.9 2026.0,1004.0 2026.6,1000.1C2027.2,996.2 2027.9,992.2 2028.8,988.3C2029.6,984.4 2030.5,979.4 2031.7,976.5C2033.0,973.7 2034.7,971.6 2036.1,971.4C2037.6,971.1 2039.1,973.6 2040.6,975.1C2042.0,976.5 2043.5,979.0 2045.0,980.2C2046.4,981.4 2047.8,983.0 2049.4,982.4C2051.0,981.8 2053.2,979.0 2054.5,976.5C2055.9,974.1 2056.6,970.9 2057.5,967.7C2058.3,964.5 2059.0,960.8 2059.7,957.4C2060.4,954.0 2061.3,950.5 2061.9,947.1C2062.5,943.7 2062.8,939.7 2063.4,936.8C2064.0,933.9 2065.2,930.7 2065.6,929.4" fill="none" stroke="#9400ff" stroke-width="5.2" stroke-linejoin="round" stroke-linecap="butt" shape-rendering="crispEdges"/>
<g stroke="#000" stroke-width="6.8" fill="none">
<rect x="146.3" y="25.3" width="1924.3" height="1549.7"/>
</g>
<g stroke="#000" stroke-width="6.6">
<line x1="146.3" y1="1575" x2="146.3" y2="1605" /><line x1="253.2" y1="1575" x2="253.2" y2="1591" /><line x1="360.1" y1="1575" x2="360.1" y2="1605" /><line x1="467.0" y1="1575" x2="467.0" y2="1591" /><line x1="573.9" y1="1575" x2="573.9" y2="1605" /><line x1="680.8" y1="1575" x2="680.8" y2="1591" /><line x1="787.7" y1="1575" x2="787.7" y2="1605" /><line x1="894.6" y1="1575" x2="894.6" y2="1591" /><line x1="1001.5" y1="1575" x2="1001.5" y2="1605" /><line x1="1108.5" y1="1575" x2="1108.5" y2="1591" /><line x1="1215.4" y1="1575" x2="1215.4" y2="1605" /><line x1="1322.3" y1="1575" x2="1322.3" y2="1591" /><line x1="1429.2" y1="1575" x2="1429.2" y2="1605" /><line x1="1536.1" y1="1575" x2="1536.1" y2="1591" /><line x1="1643.0" y1="1575" x2="1643.0" y2="1605" /><line x1="1749.9" y1="1575" x2="1749.9" y2="1591" /><line x1="1856.8" y1="1575" x2="1856.8" y2="1605" /><line x1="1963.7" y1="1575" x2="1963.7" y2="1591" /><line x1="2070.6" y1="1575" x2="2070.6" y2="1605" />
</g>
<g font-family="'Liberation Serif', serif" font-size="74" text-anchor="middle" fill="#000">
<text x="146.3" y="1681">4000</text><text x="360.1" y="1681">3600</text><text x="573.9" y="1681">3200</text><text x="787.7" y="1681">2800</text><text x="1001.5" y="1681">2400</text><text x="1215.4" y="1681">2000</text><text x="1429.2" y="1681">1600</text><text x="1643.0" y="1681">1200</text><text x="1856.8" y="1681">800</text><text x="2070.6" y="1681">400</text>
</g>
<g fill="#9400ff"><rect x="176" y="102.4" width="165" height="5.5"/><rect x="174" y="104" width="2" height="2.5"/><rect x="341" y="104" width="2" height="2.5"/></g>
<g fill="#ff8000"><rect x="176" y="193.8" width="165" height="5.5"/><rect x="174" y="195.4" width="2" height="2.5"/><rect x="341" y="195.4" width="2" height="2.5"/></g>
<g font-family="'Liberation Serif', serif" font-size="76" fill="#000">
<text x="354" y="129.5">NCC</text>
<text x="356" y="218.5">CNF</text>
</g>
<text x="755" y="1791.4" font-family="'Liberation Serif', serif" font-size="81.3" font-weight="bold" fill="#000">Wavenumber (cm<tspan font-size="61" font-weight="normal" dy="-30">&#8722;</tspan><tspan font-size="54" dy="-3" dx="-2">1</tspan><tspan dy="33">)</tspan></text>
<text transform="translate(80.2,1129) rotate(-90)" x="0" y="0" font-family="'Liberation Serif', serif" font-size="81.5" font-weight="bold" fill="#000">Transmittance (%)</text>
</svg>
</body></html>
